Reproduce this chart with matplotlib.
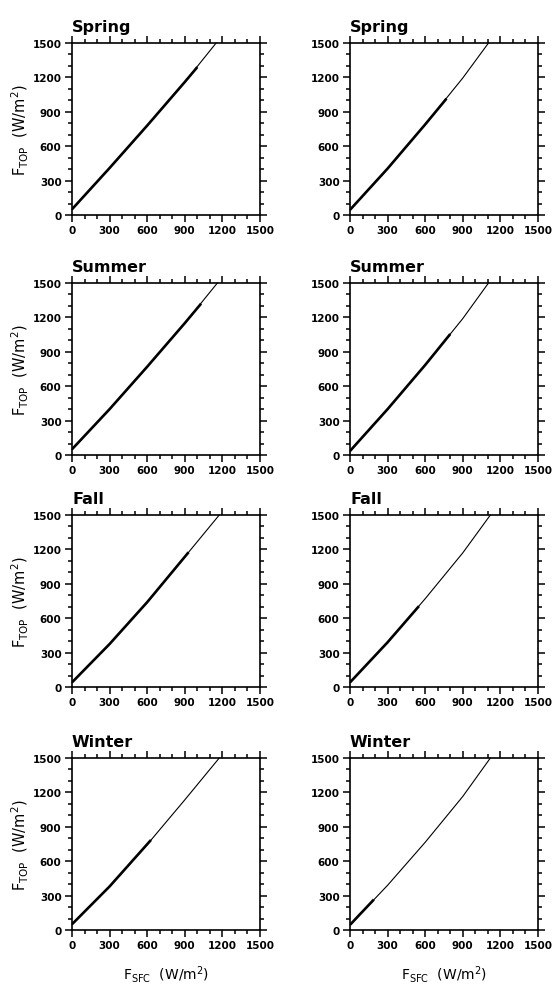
import matplotlib
matplotlib.use("Agg")
import matplotlib.pyplot as plt
from matplotlib.ticker import MultipleLocator

plt.rcParams['font.family'] = ['DejaVu Sans']
plt.rcParams['mathtext.default'] = 'regular'

seasons = ['Spring', 'Summer', 'Fall', 'Winter']

# fitted line (thin) and range covered by the data (thick), left column
left_fit_x = [
    [0, 300, 600, 900, 1150],
    [0, 300, 600, 900, 1160],
    [0, 300, 600, 900, 1175],
    [0, 300, 600, 900, 1175],
]
left_fit_y = [
    [50, 410, 780, 1160, 1500],
    [50, 400, 770, 1150, 1500],
    [40, 375, 740, 1135, 1500],
    [50, 380, 745, 1135, 1500],
]
left_obs_x = [
    [0, 300, 600, 900, 1000],
    [0, 300, 600, 900, 1030],
    [0, 300, 600, 930],
    [0, 300, 630],
]
left_obs_y = [
    [50, 410, 780, 1160, 1290],
    [50, 400, 770, 1150, 1320],
    [40, 375, 740, 1175],
    [50, 380, 785],
]

# right column
right_fit_x = [
    [0, 300, 600, 900, 1105],
    [0, 300, 600, 900, 1105],
    [0, 300, 600, 900, 1120],
    [0, 300, 600, 900, 1120],
]
right_fit_y = [
    [45, 405, 790, 1195, 1500],
    [35, 400, 785, 1190, 1500],
    [40, 390, 770, 1170, 1500],
    [45, 390, 765, 1165, 1500],
]
right_obs_x = [
    [0, 300, 600, 770],
    [0, 300, 600, 800],
    [0, 300, 550],
    [0, 190],
]
right_obs_y = [
    [45, 405, 790, 1015],
    [35, 400, 785, 1055],
    [40, 390, 705],
    [45, 265],
]

W, H = 557, 987
fig = plt.figure(figsize=(W / 100, H / 100), dpi=100)

col_left = [72, 350]
ax_w = 188
row_top = [44, 284, 516, 759]
ax_h = 172


def style(ax):
    ax.set_xlim(0, 1500)
    ax.set_ylim(0, 1500)
    ax.xaxis.set_major_locator(MultipleLocator(300))
    ax.yaxis.set_major_locator(MultipleLocator(300))
    ax.xaxis.set_minor_locator(MultipleLocator(100))
    ax.yaxis.set_minor_locator(MultipleLocator(100))
    ax.tick_params(which='both', direction='out', top=True, right=True,
                   width=1.1, color='black')
    ax.tick_params(which='major', length=5, labelsize=7.5, pad=2.5)
    ax.tick_params(which='minor', length=3)
    for lab in ax.get_xticklabels() + ax.get_yticklabels():
        lab.set_fontweight('bold')
    for sp in ax.spines.values():
        sp.set_linewidth(1.2)


for r in range(4):
    for c in range(2):
        x0 = col_left[c] / W
        y0 = 1 - (row_top[r] + ax_h) / H
        ax = fig.add_axes([x0, y0, ax_w / W, ax_h / H])
        if c == 0:
            fx, fy, ox, oy = left_fit_x[r], left_fit_y[r], left_obs_x[r], left_obs_y[r]
        else:
            fx, fy, ox, oy = right_fit_x[r], right_fit_y[r], right_obs_x[r], right_obs_y[r]
        ax.plot(fx, fy, color='black', lw=0.8, clip_on=False)
        ax.plot(ox, oy, color='black', lw=1.9, solid_capstyle='butt')
        style(ax)
        ax.text(0, 1.07, seasons[r], transform=ax.transAxes, ha='left',
                va='baseline', fontsize=11.5, fontweight='bold')
        if c == 0:
            ax.set_ylabel(r'F$_{TOP}$  (W/m$^2$)', fontsize=10.5)
            ax.yaxis.set_label_coords(-0.22, 0.5)
        if r == 3:
            ax.set_xlabel(r'F$_{SFC}$  (W/m$^2$)', fontsize=10)
            ax.xaxis.set_label_coords(0.5, -0.19)

fig.savefig('out.png', dpi=100)
